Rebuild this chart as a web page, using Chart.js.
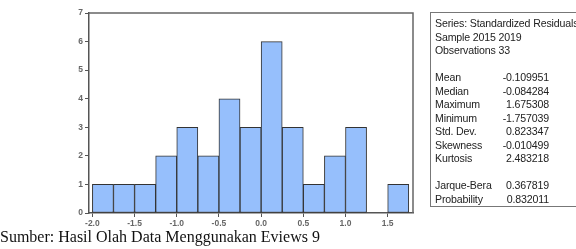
<!DOCTYPE html>
<html>
<head>
<meta charset="utf-8">
<script src="https://cdn.jsdelivr.net/npm/chart.js@4"></script>
<style>
html,body{margin:0;padding:0;background:#fff;}
#wrap{position:relative;width:576px;height:249px;overflow:hidden;}
canvas{position:absolute;left:0;top:0;}
#stats{position:absolute;left:430px;top:12px;width:160px;height:195px;border:1.5px solid #777;box-sizing:border-box;font-family:"Liberation Sans",Arial,sans-serif;font-size:10.6px;letter-spacing:-0.15px;color:#222;}
#stats div{position:absolute;white-space:nowrap;line-height:13px;}
#caption{position:absolute;left:0;top:228px;font-family:"Liberation Serif","Times New Roman",serif;font-size:16px;color:#111;white-space:nowrap;}
</style>
</head>
<body>
<div id="wrap">
<canvas id="c" width="576" height="249"></canvas>
<div id="stats"></div>
<div id="caption">Sumber: Hasil Olah Data Menggunakan Eviews 9</div>
</div>
<script>
// Histogram bins (width 0.25) of standardized residuals
const binStarts = [-2.0,-1.75,-1.5,-1.25,-1.0,-0.75,-0.5,-0.25,0.0,0.25,0.5,0.75,1.0,1.25,1.5];
const binCounts = [1,1,1,2,3,2,4,3,6,3,1,2,3,0,1];
const binWidth = 0.25;
const xTickValues = [-2.0,-1.5,-1.0,-0.5,0.0,0.5,1.0,1.5];
const yTickValues = [0,1,2,3,4,5,6,7];

const headerLines = ["Series: Standardized Residuals","Sample 2015 2019","Observations 33"];
const statNames = ["Mean","Median","Maximum","Minimum","Std. Dev.","Skewness","Kurtosis"];
const statValues = ["-0.109951","-0.084284","1.675308","-1.757039","0.823347","-0.010499","2.483218"];
const testNames = ["Jarque-Bera","Probability"];
const testValues = ["0.367819","0.832011"];

// stats box
(function(){
  const box = document.getElementById('stats');
  const lh = 13.5;
  let y = 4;
  function add(text, left, top, right){
    const d = document.createElement('div');
    d.textContent = text;
    d.style.top = top + 'px';
    if (right !== undefined){ d.style.left = (right) + 'px'; d.style.transform='translateX(-100%)'; }
    else d.style.left = left + 'px';
    box.appendChild(d);
  }
  headerLines.forEach(t => { add(t, 4, y); y += lh; });
  y += lh;
  statNames.forEach((n,i) => { add(n, 4, y); add(statValues[i], 0, y, 118); y += lh; });
  y += lh;
  testNames.forEach((n,i) => { add(n, 4, y); add(testValues[i], 0, y, 118); y += lh; });
})();

const data = binStarts.map((s,i) => ({x: s + binWidth/2, y: binCounts[i]}));

const framePlugin = {
  id: 'frame',
  afterDraw(chart){
    const a = chart.chartArea, ctx = chart.ctx;
    ctx.save();
    ctx.strokeStyle = '#666';
    ctx.lineWidth = 1.5;
    ctx.beginPath();
    ctx.moveTo(a.left, a.top);
    ctx.lineTo(a.right, a.top);
    ctx.lineTo(a.right, a.bottom);
    ctx.stroke();
    ctx.restore();
  }
};

new Chart(document.getElementById('c'), {
  type: 'bar',
  data: {
    datasets: [{
      data: data,
      backgroundColor: '#96bffc',
      borderColor: '#333',
      borderWidth: 1,
      borderSkipped: false,
      barPercentage: 1.0,
      categoryPercentage: 1.0
    }]
  },
  options: {
    responsive: false,
    animation: false,
    events: [],
    layout: {padding: {left: 72, right: 163, top: 13, bottom: 16}},
    plugins: {legend: {display: false}, tooltip: {enabled: false}},
    scales: {
      x: {
        type: 'linear',
        offset: false,
        min: -2.04,
        max: 1.80,
        afterBuildTicks(scale){ scale.ticks = xTickValues.map(v => ({value: v})); },
        afterFit(scale){ scale.height = 20; },
        grid: {display: true, drawOnChartArea: false, offset: false, tickLength: 4, color: '#555', lineWidth: 1},
        border: {display: true, color: '#555', width: 1.5},
        ticks: {
          callback: v => Number(v).toFixed(1),
          font: {family: 'Liberation Sans, Arial, sans-serif', size: 8.5, weight: 'bold'},
          color: '#666',
          padding: 2,
          maxRotation: 0,
          autoSkip: false
        }
      },
      y: {
        min: 0,
        max: 7,
        afterBuildTicks(scale){ scale.ticks = yTickValues.map(v => ({value: v})); },
        afterFit(scale){ scale.width = 17; },
        grid: {display: true, drawOnChartArea: false, tickLength: 4, color: '#555', lineWidth: 1},
        border: {display: true, color: '#555', width: 1.5},
        ticks: {
          font: {family: 'Liberation Sans, Arial, sans-serif', size: 8.5, weight: 'bold'},
          color: '#666',
          padding: 2
        }
      }
    }
  },
  plugins: [framePlugin]
});
</script>
</body>
</html>
